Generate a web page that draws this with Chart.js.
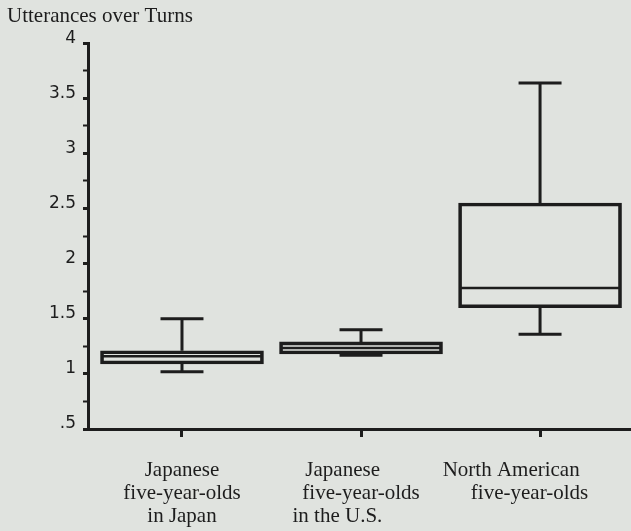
<!DOCTYPE html>
<html>
<head>
<meta charset="utf-8">
<script src="https://cdn.jsdelivr.net/npm/chart.js@4.4.0/dist/chart.umd.min.js"></script>
<style>
html, body { margin: 0; padding: 0; background: #e0e3df; }
canvas { display: block; }
</style>
</head>
<body>
<canvas id="chart" width="631" height="531"></canvas>
<script>
// trailing spaces nudge the lines left, the way they sit in the original
const groups = [
    ["Japanese", "five-year-olds", "in Japan"],
    ["Japanese       ", "five-year-olds", "in the U.S.         "],
    ["North American           ", "five-year-olds    "]
]
const positions = [1, 2, 3]
const whiskerLow = [1.02, 1.17, 1.36]
const quartile1 = [1.09, 1.18, 1.60]
const medians = [1.16, 1.235, 1.78]
const quartile3 = [1.21, 1.29, 2.55]
const whiskerHigh = [1.50, 1.40, 3.64]

const ink = "#1d1d1d"

// whiskers, caps and median lines, placed with the chart's own scales
const boxPlotLines = {
    id: "boxPlotLines",
    afterDatasetsDraw(chart) {
        const ctx = chart.ctx
        const x = chart.scales.x
        const y = chart.scales.y
        const bars = chart.getDatasetMeta(0).data
        ctx.save()
        ctx.strokeStyle = ink
        ctx.lineCap = "butt"
        positions.forEach((p, i) => {
            const cx = x.getPixelForValue(p)
            const capL = x.getPixelForValue(p - 0.12)
            const capR = x.getPixelForValue(p + 0.12)
            const half = bars[i].width / 2

            ctx.lineWidth = 3
            ctx.beginPath()
            ctx.moveTo(cx, y.getPixelForValue(quartile3[i]))
            ctx.lineTo(cx, y.getPixelForValue(whiskerHigh[i]))
            ctx.moveTo(cx, y.getPixelForValue(quartile1[i]))
            ctx.lineTo(cx, y.getPixelForValue(whiskerLow[i]))
            ctx.moveTo(capL, y.getPixelForValue(whiskerHigh[i]))
            ctx.lineTo(capR, y.getPixelForValue(whiskerHigh[i]))
            ctx.moveTo(capL, y.getPixelForValue(whiskerLow[i]))
            ctx.lineTo(capR, y.getPixelForValue(whiskerLow[i]))
            ctx.stroke()

            ctx.lineWidth = 2.5
            ctx.beginPath()
            ctx.moveTo(cx - half + 2, y.getPixelForValue(medians[i]))
            ctx.lineTo(cx + half - 2, y.getPixelForValue(medians[i]))
            ctx.stroke()
        })
        ctx.restore()
    }
}

const ctx = document.getElementById("chart").getContext("2d")

const chart = new Chart(ctx, {
    type: "bar",
    data: {
        datasets: [{
            data: positions.map((p, i) => ({x: p, y: [quartile1[i], quartile3[i]]})),
            backgroundColor: "rgba(0,0,0,0)",
            borderColor: ink,
            borderWidth: 3,
            borderSkipped: false,
            barThickness: 163
        }]
    },
    options: {
        responsive: false,
        animation: false,
        devicePixelRatio: 1,
        layout: {padding: {left: 7, right: 0, top: 0, bottom: 0}},
        plugins: {
            legend: {display: false},
            tooltip: {enabled: false},
            title: {
                display: true,
                text: "Utterances over Turns",
                align: "start",
                color: ink,
                font: {family: "Liberation Serif", size: 21, weight: "normal", lineHeight: 1.2},
                padding: {top: 4, bottom: 14}
            }
        },
        scales: {
            x: {
                type: "linear",
                offset: false,
                min: 0.475,
                max: 3.508,
                afterBuildTicks(axis) {
                    axis.ticks = positions.map(v => ({value: v}))
                },
                afterFit(axis) {
                    axis.height = 102
                    axis.paddingLeft = 0
                    axis.paddingRight = 0
                },
                border: {display: true, color: ink, width: 3},
                grid: {
                    display: true,
                    offset: false,
                    drawOnChartArea: false,
                    drawTicks: true,
                    tickLength: 8,
                    tickWidth: 3,
                    tickColor: ink
                },
                ticks: {
                    autoSkip: false,
                    maxRotation: 0,
                    padding: 22,
                    color: ink,
                    font: {family: "Liberation Serif", size: 21, lineHeight: 1.1},
                    callback: (value, index) => groups[index]
                }
            },
            y: {
                min: 0.5,
                max: 4,
                afterFit(axis) {
                    axis.width = 81
                },
                border: {display: true, color: ink, width: 3},
                grid: {
                    display: true,
                    drawOnChartArea: false,
                    drawTicks: true,
                    tickLength: 5,
                    tickColor: ink,
                    tickWidth: c => (Math.abs(c.tick.value * 2 - Math.round(c.tick.value * 2)) < 1e-6 ? 3 : 2)
                },
                ticks: {
                    stepSize: 0.25,
                    autoSkip: false,
                    padding: 7,
                    labelOffset: -5,
                    color: ink,
                    font: {family: "DejaVu Sans", size: 17},
                    callback: v => {
                        if (Math.abs(v * 2 - Math.round(v * 2)) > 1e-6) return ""
                        return v === 0.5 ? ".5" : String(v)
                    }
                }
            }
        }
    },
    plugins: [boxPlotLines]
})
</script>
</body>
</html>
